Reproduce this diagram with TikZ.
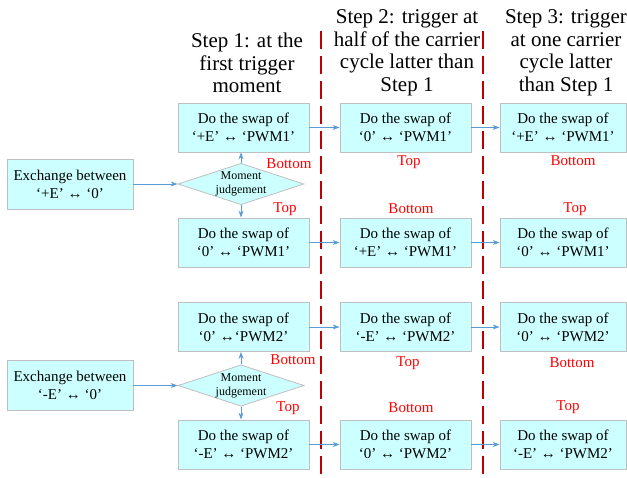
\documentclass[tikz,border=0pt]{standalone}
\usepackage{fontspec}
\setmainfont{Liberation Serif}
\usetikzlibrary{arrows.meta, shapes.geometric}
\definecolor{boxcyan}{HTML}{CCFFFF}
\definecolor{boxgray}{HTML}{BFBFBF}
\definecolor{linkblue}{HTML}{5B9BD5}
\definecolor{stepred}{HTML}{C00000}
\definecolor{lblred}{HTML}{FF0000}

\begin{document}
\begin{tikzpicture}[x=1pt, y=-1pt,
  swapbox/.style={draw=boxgray, fill=boxcyan, line width=0.8pt, minimum width=131pt,
    minimum height=49pt, inner sep=0pt, align=center, font=\fontsize{15}{18}\selectfont},
  lastbox/.style={swapbox, minimum width=126pt},
  xchbox/.style={swapbox, minimum width=126pt, minimum height=50pt},
  judge/.style={diamond, aspect=3, draw=boxgray, fill=boxcyan, line width=0.8pt,
    minimum width=126pt, minimum height=41pt, inner sep=0pt, align=center,
    font=\fontsize{12}{14}\selectfont},
  link/.style={-{Stealth[length=7pt, width=5pt]}, linkblue, line width=0.8pt},
  edgelbl/.style={text=lblred, font=\fontsize{15}{18}\selectfont},
  header/.style={align=center, font=\fontsize{21}{22.5}\selectfont},
  divider/.style={stepred, line width=2.2pt, dash pattern=on 18pt off 7pt}]

\useasboundingbox (0,0) rectangle (627,477);

% Step headers
\node[header] (hd1) at (247,63) {Step 1: at the\\first trigger\\moment};
\node[header] (hd2) at (407,53) {Step 2: trigger at\\half of the carrier\\cycle latter than\\Step 1};
\node[header] (hd3) at (566,53) {Step 3: trigger\\at one carrier\\cycle latter\\than Step 1};

% --- Dividers between the steps ---
\draw[divider] (321,31) -- (321,477);
\draw[divider] (483,31) -- (483,477);

% --- Upper group: +E / 0 ---
\node[xchbox] (xp) at (70,184) {Exchange between\\‘+E’ ↔ ‘0’};
\node[judge] (jp) at (241,184) {Moment\\judgement};
\node[swapbox] (p1a) at (243.5,127.5) {Do the swap of\\‘+E’ ↔ ‘PWM1’};
\node[swapbox] (p1b) at (243.5,242.5) {Do the swap of\\‘0’ ↔ ‘PWM1’};
\node[swapbox] (p2a) at (405.5,127.5) {Do the swap of\\‘0’ ↔ ‘PWM1’};
\node[swapbox] (p2b) at (405.5,242.5) {Do the swap of\\‘+E’ ↔ ‘PWM1’};
\node[lastbox] (p3a) at (563,127.5) {Do the swap of\\‘+E’ ↔ ‘PWM1’};
\node[lastbox] (p3b) at (563,242.5) {Do the swap of\\‘0’ ↔ ‘PWM1’};

\node[edgelbl] (lb1) at (289,164) {Bottom};
\node[edgelbl] (lt1) at (285,209) {Top};
\node[edgelbl] (lt2) at (409,162) {Top};
\node[edgelbl] (lb3) at (573,161) {Bottom};
\node[edgelbl] (lb2) at (411,209) {Bottom};
\node[edgelbl] (lt3) at (575,209) {Top};

\draw[link] (xp) -- (jp);
\draw[link] (jp.north) -- (jp.north |- p1a.south);
\draw[link] (jp.south) -- (jp.south |- p1b.north);
\draw[link] (p1a) -- (p2a);
\draw[link] (p2a) -- (p3a);
\draw[link] (p1b) -- (p2b);
\draw[link] (p2b) -- (p3b);

% --- Lower group: -E / 0 ---
\node[xchbox] (xm) at (70,385.5) {Exchange between\\‘-E’ ↔ ‘0’};
\node[judge] (jm) at (241,385.5) {Moment\\judgement};
\node[swapbox] (m1a) at (243.5,327) {Do the swap of\\‘0’ ↔‘PWM2’};
\node[swapbox] (m1b) at (243.5,444.5) {Do the swap of\\‘-E’ ↔ ‘PWM2’};
\node[swapbox] (m2a) at (405.5,327) {Do the swap of\\‘-E’ ↔ ‘PWM2’};
\node[swapbox] (m2b) at (405.5,444.5) {Do the swap of\\‘0’ ↔ ‘PWM2’};
\node[lastbox] (m3a) at (563,327) {Do the swap of\\‘0’ ↔ ‘PWM2’};
\node[lastbox] (m3b) at (563,444.5) {Do the swap of\\‘-E’ ↔ ‘PWM2’};

\node[edgelbl] (lb4) at (293,360) {Bottom};
\node[edgelbl] (lt4) at (288,408) {Top};
\node[edgelbl] (lt5) at (408,363) {Top};
\node[edgelbl] (lb6) at (572,363) {Bottom};
\node[edgelbl] (lb5) at (411,408) {Bottom};
\node[edgelbl] (lt6) at (568,407) {Top};

\draw[link] (xm) -- (jm);
\draw[link] (jm.north) -- (jm.north |- m1a.south);
\draw[link] (jm.south) -- (jm.south |- m1b.north);
\draw[link] (m1a) -- (m2a);
\draw[link] (m2a) -- (m3a);
\draw[link] (m1b) -- (m2b);
\draw[link] (m2b) -- (m3b);

\end{tikzpicture}
\end{document}
